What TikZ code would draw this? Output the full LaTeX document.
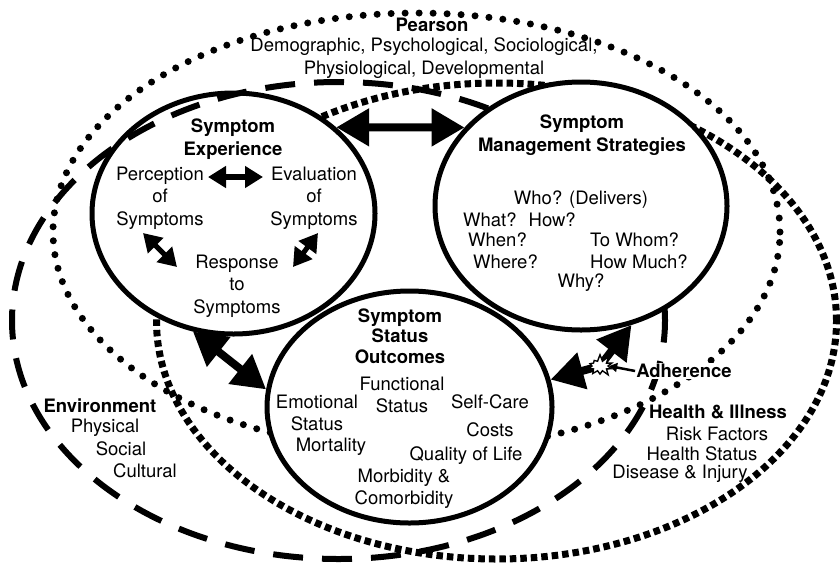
\documentclass[tikz,border=0pt]{standalone}
\usepackage{fontspec}
\setmainfont{TeX Gyre Heros}
\usetikzlibrary{arrows.meta,positioning,shapes.geometric,shapes.symbols}

\newcommand{\figfont}{\fontsize{18.5}{22.5}\selectfont}

\begin{document}
\begin{tikzpicture}[x=1pt,y=-1pt,
  sphere/.style={ellipse,draw,line width=5pt,fill=white,inner sep=0pt},
  txt/.style={font=\figfont,align=center,inner sep=1pt},
  bold/.style={font=\figfont\bfseries,align=center,inner sep=1pt},
  rounddots/.style={line width=7pt,line cap=round,dash pattern=on 0pt off 14pt},
  longdash/.style={line width=6pt,dash pattern=on 30pt off 19pt},
  squaredots/.style={line width=7pt,dash pattern=on 6.5pt off 4pt},
  bigarrow/.style={line width=8pt,{Triangle[length=33pt,width=36pt]}-{Triangle[length=33pt,width=36pt]}},
  smallarrow/.style={line width=6pt,{Triangle[length=18pt,width=21pt]}-{Triangle[length=18pt,width=21pt]}},
  onehead/.style={line width=8pt,-{Triangle[length=33pt,width=36pt]}},
  burst/.style={starburst,random starburst,starburst points=10,starburst point height=7pt,
    draw,line width=1.4pt,fill=white,minimum width=30pt,minimum height=24pt,inner sep=0pt},
]

  \useasboundingbox (0,0) rectangle (840,571);

  % outer rings: person, health & illness, environment
  \draw[rounddots] (416.5,232) ellipse [x radius=363.5pt,y radius=219pt];
  \draw[squaredots] (496.5,321) ellipse [x radius=340pt,y radius=238pt];
  \node[sphere,minimum width=283pt,minimum height=241pt] (exp) at (233.5,213.5) {};
  \draw[longdash] (338.5,320.5) ellipse [x radius=326.5pt,y radius=238.5pt];

  % the other two dimensions
  \node[sphere,minimum width=292pt,minimum height=248pt] (sms) at (581,206) {};
  \node[sphere,minimum width=285pt,minimum height=232pt] (sso) at (409.5,407) {};

  % links between the dimensions
  \draw[bigarrow] (exp.40) -- (sms.146);
  \draw[bigarrow] (exp.251) -- (sso.173);

  \coordinate (clash) at (600,366);
  \draw[onehead] (clash) -- (sso.11);
  \draw[onehead] (clash) -- (sms.-67);
  \node[burst] (burst) at (clash) {};

  \node[bold,fill=white] (adh) at (684,371) {Adherence};
  \draw[line width=2.5pt,-{Triangle[length=8pt,width=9pt]}] (adh.west) -- (burst.east);

  % person
  \node[bold] (pearson) at (432,25) {Pearson};
  \node[txt] (demog) at (424,58) {Demographic, Psychological, Sociological,\\Physiological, Developmental};

  % environment
  \node[bold] (env) at (100,406) {Environment};
  \foreach \word/\x/\y [count=\i] in {Physical/105/428,Social/121/449,Cultural/145/471}
    \node[txt] (env\i) at (\x,\y) {\word};

  % health and illness
  \node[bold] (hi) at (718,412) {Health \& Illness};
  \foreach \word/\x/\y [count=\i] in {Risk Factors/717/434,Health Status/702/454,{Disease \& Injury}/680/474}
    \node[txt] (hi\i) at (\x,\y) {\word};

  % symptom experience
  \node[bold] (exptitle) at (233,139) {Symptom\\Experience};
  \node[txt] (perc) at (160,198) {Perception\\of\\Symptoms};
  \node[txt] (eval) at (314,198) {Evaluation\\of\\Symptoms};
  \node[txt] (resp) at (237,286) {Response\\to\\Symptoms};

  \coordinate (pe1) at (208,177);
  \coordinate (pe2) at (263,177);
  \coordinate (pr1) at (143,233);
  \coordinate (pr2) at (177,267);
  \coordinate (er1) at (318,233);
  \coordinate (er2) at (293,267);
  \draw[smallarrow] (pe1) -- (pe2);
  \draw[smallarrow,line width=5pt] (pr1) -- (pr2);
  \draw[smallarrow,line width=5pt] (er1) -- (er2);

  % management strategies
  \node[bold] (smstitle) at (582,135) {Symptom\\Management Strategies};
  \node[txt] (who) at (581,200) {Who? (Delivers)};
  \node[txt,anchor=west] (what) at (462,220) {What?~ How?};
  \node[txt,anchor=west] (when) at (467,240) {When?};
  \node[txt,anchor=west] (where) at (472,262) {Where?};
  \node[txt,anchor=west,align=left] (whom) at (589,251) {To Whom?\\How Much?};
  \node[txt] (why) at (581,283) {Why?};

  % status outcomes
  \node[bold,font=\fontsize{18.5}{20.5}\selectfont\bfseries] (ssotitle) at (400,336) {Symptom\\Status\\Outcomes};
  \node[txt] (func) at (402,395) {Functional\\Status};
  \node[txt] (emo) at (317,413) {Emotional\\Status};
  \node[txt] (mort) at (331,447) {Mortality};
  \node[txt] (self) at (490,402) {Self-Care};
  \node[txt] (costs) at (490,430) {Costs};
  \node[txt] (qol) at (466,456) {Quality of Life};
  \node[txt] (morb) at (404,489) {Morbidity \&\\Comorbidity};

\end{tikzpicture}
\end{document}
